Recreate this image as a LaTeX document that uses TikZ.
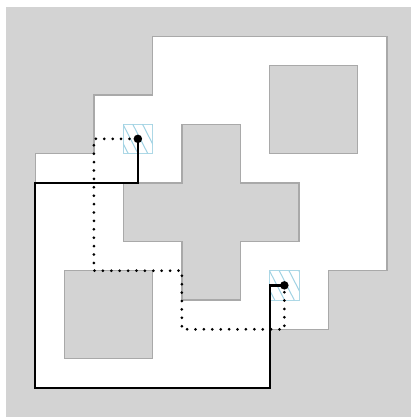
\documentclass[tikz,border=0pt]{standalone}
\begin{document}
\begin{tikzpicture}[x=29.3pt,y=-29.3pt,
  bgfill/.style={fill={rgb,255:red,211;green,211;blue,211}},
  obst/.style={fill={rgb,255:red,211;green,211;blue,211},draw={rgb,255:red,169;green,169;blue,169},line width=1.4pt},
  free/.style={fill=white,draw={rgb,255:red,169;green,169;blue,169},line width=1.4pt},
  goalbox/.style={draw={rgb,255:red,173;green,216;blue,230},line width=0.9pt,minimum size=29.3pt,inner sep=0pt,outer sep=0pt},
  hatch/.style={draw={rgb,255:red,160;green,210;blue,228},line width=1pt},
  dotnode/.style={circle,fill=black,inner sep=0pt,minimum size=8.5pt},
  solidpath/.style={draw=black,line width=2.3pt},
  dotpath/.style={draw=black,line width=3pt,dash pattern=on 0pt off 8.4pt,line cap=round}]
\useasboundingbox (-6pt,7pt) rectangle (405pt,-410pt);
% background
\fill[bgfill] (0pt,0pt) rectangle (405pt,-410pt);
% free space
\path[free] (5,1) -- (13,1) -- (13,9) -- (11,9) -- (11,11) -- (9,11) -- (9,13) -- (1,13) -- (1,5) -- (3,5) -- (3,3) -- (5,3) -- cycle;
% obstacles
\path[obst] (9,2) rectangle (12,5);
\path[obst] (2,9) rectangle (5,12);
\path[obst] (6,4) -- (8,4) -- (8,6) -- (10,6) -- (10,8) -- (8,8) -- (8,10) -- (6,10) -- (6,8) -- (4,8) -- (4,6) -- (6,6) -- cycle;
% goal boxes
\node[goalbox] (ga) at (4.5,4.5) {};
\node[goalbox] (gb) at (9.5,9.5) {};
\foreach \b in {ga,gb}{
  \begin{scope}
    \clip (\b.north west) rectangle (\b.south east);
    \foreach \k in {-2,...,4}{
      \draw[hatch] ([xshift=\k*9.77pt-10pt]\b.north west) -- ++(15pt,-29.3pt);
    }
  \end{scope}
}
% paths
\coordinate (a1) at (4.5,6);
\coordinate (a2) at (1,6);
\coordinate (a3) at (1,13);
\coordinate (a4) at (9,13);
\coordinate (a5) at (9,9.5);
\draw[solidpath] (ga.center) -- (a1) -- (a2) -- (a3) -- (a4) -- (a5) -- (gb.center);
\coordinate (b1) at (3,4.5);
\coordinate (b2) at (3,9);
\coordinate (b3) at (6,9);
\coordinate (b4) at (6,11);
\coordinate (b5) at (9.5,11);
\draw[dotpath] (ga.center) -- (b1) -- (b2) -- (b3) -- (b4) -- (b5) -- (gb.center);
\node[dotnode] (sa) at (ga.center) {};
\node[dotnode] (sb) at (gb.center) {};
\end{tikzpicture}
\end{document}
